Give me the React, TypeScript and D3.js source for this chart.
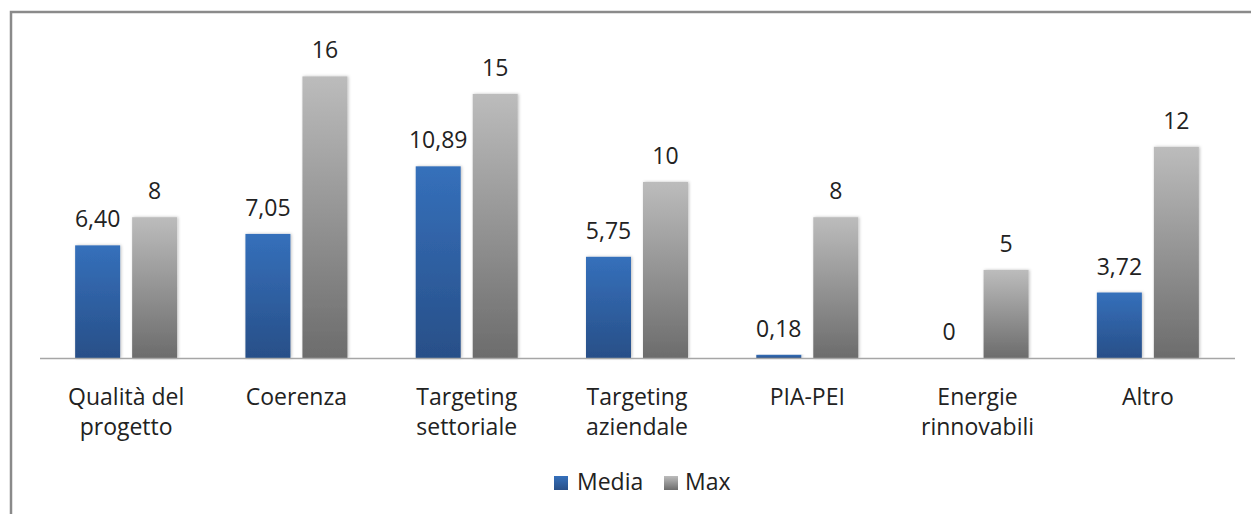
import React from "react";
import * as d3 from "d3";

const categories: string[][] = [
  ["Qualità del", "progetto"],
  ["Coerenza"],
  ["Targeting", "settoriale"],
  ["Targeting", "aziendale"],
  ["PIA-PEI"],
  ["Energie", "rinnovabili"],
  ["Altro"],
];
const media: number[] = [6.4, 7.05, 10.89, 5.75, 0.18, 0, 3.72];
const maxVals: number[] = [8, 16, 15, 10, 8, 5, 12];
const seriesNames = ["Media", "Max"];

const W = 1251;
const H = 514;
const FONT = "'Open Sans', sans-serif";
const FS = 23;

export default function App() {
  const keys = categories.map((c) => c.join(" "));
  const x = d3.scaleBand<string>().domain(keys).range([41, 1233]).paddingInner(0).paddingOuter(0);
  const baseline = 358;
  const y = d3.scaleLinear().domain([0, 18]).range([baseline, baseline - 18 * 17.6]);
  const fmt = (v: number) => (Number.isInteger(v) ? String(v) : v.toFixed(2).replace(".", ","));
  const barW = 45;
  const gap = 12;
  const step = x.bandwidth();
  const offset = (step - (2 * barW + gap)) / 2;
  const series = [media, maxVals];
  const fills = ["url(#gBlue)", "url(#gGray)"];

  return (
    <svg width={W} height={H} style={{ position: "absolute", left: 0, top: 0, background: "#fff" }}>
      <defs>
        <linearGradient id="gBlue" x1="0" y1="0" x2="0" y2="1">
          <stop offset="0" stopColor="#3570bb" />
          <stop offset="1" stopColor="#284f88" />
        </linearGradient>
        <linearGradient id="gGray" x1="0" y1="0" x2="0" y2="1">
          <stop offset="0" stopColor="#bcbcbc" />
          <stop offset="1" stopColor="#6c6c6c" />
        </linearGradient>
        <filter id="shadow" x="-20%" y="-5%" width="140%" height="110%">
          <feDropShadow dx="1" dy="0" stdDeviation="1.5" floodColor="#000" floodOpacity="0.25" />
        </filter>
      </defs>
      <rect x={11} y={12} width={1250} height={510} fill="#fff" stroke="#8a8a8a" strokeWidth={2.5} />
      {keys.map((k, i) =>
        series.map((s, j) => {
          const v = s[i];
          const bx = (x(k) as number) + offset + j * (barW + gap);
          const top = y(v);
          return (
            <g key={k + j}>
              {v > 0 && (
                <rect
                  x={bx}
                  y={top}
                  width={barW}
                  height={baseline - top}
                  fill={fills[j]}
                  filter="url(#shadow)"
                />
              )}
              <text
                x={bx + barW / 2}
                y={top - 18}
                textAnchor="middle"
                fontFamily={FONT}
                fontSize={FS}
                fill="#222"
              >
                {fmt(v)}
              </text>
            </g>
          );
        })
      )}
      <line x1={40} x2={1235} y1={baseline + 0.5} y2={baseline + 0.5} stroke="#a6a6a6" strokeWidth={1.5} />
      {categories.map((lines, i) => {
        const cx = (x(keys[i]) as number) + step / 2;
        return (
          <text key={keys[i]} textAnchor="middle" fontFamily={FONT} fontSize={FS} fill="#222">
            {lines.map((l, li) => (
              <tspan key={li} x={cx} y={405 + li * 30}>
                {l}
              </tspan>
            ))}
          </text>
        );
      })}
      <g>
        <rect x={554} y={476} width={14} height={14} fill="url(#gBlue)" />
        <text x={577} y={490} fontFamily={FONT} fontSize={FS} fill="#222">
          {seriesNames[0]}
        </text>
        <rect x={664} y={476} width={14} height={14} fill="url(#gGray)" />
        <text x={685} y={490} fontFamily={FONT} fontSize={FS} fill="#222">
          {seriesNames[1]}
        </text>
      </g>
    </svg>
  );
}
